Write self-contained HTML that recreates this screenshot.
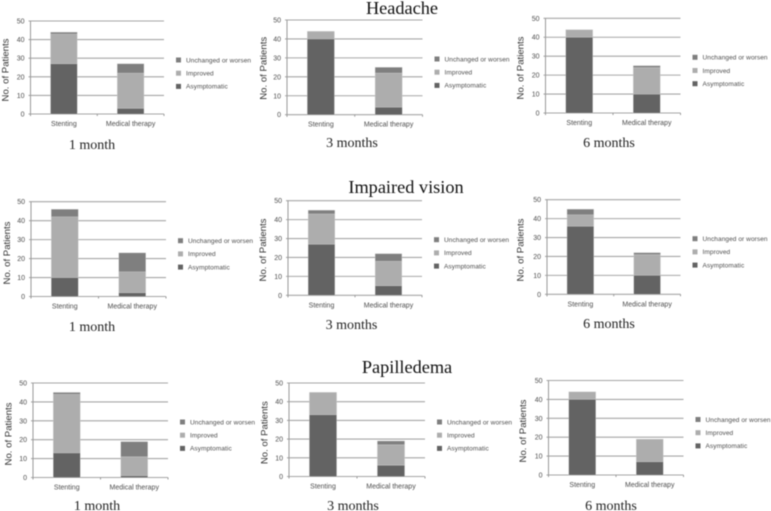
<!DOCTYPE html>
<html lang="en">
<head>
<meta charset="utf-8">
<title>Outcomes by symptom</title>
<style>
html,body{margin:0;padding:0;background:#fff;width:771px;height:511px;overflow:hidden}
svg{display:block;filter:blur(0.5px)}
.tick,.cat{font-family:"Liberation Sans",sans-serif;font-size:7px;fill:#4d4d4d}
.leg{font-family:"Liberation Sans",sans-serif;font-size:6.5px;fill:#4d4d4d;letter-spacing:.08px}
.ylab{font-family:"Liberation Sans",sans-serif;font-size:9.6px;fill:#333}
.cap{font-family:"Liberation Serif",serif;font-size:14px;fill:#222}
.title{font-family:"Liberation Serif",serif;font-size:18.3px;fill:#111}
</style>
</head>
<body>
<svg id="figure" width="771" height="511" viewBox="0 0 771 511" xmlns="http://www.w3.org/2000/svg">
<text class="title" x="402" y="14" text-anchor="middle">Headache</text>
<text class="title" x="406" y="193" text-anchor="middle">Impaired vision</text>
<text class="title" x="407" y="373" text-anchor="middle">Papilledema</text>
</svg>
<script>
const categories = ["Stenting", "Medical therapy"];
const seriesNames = ["Asymptomatic", "Improved", "Unchanged or worsen"];
const tickLabels = [0, 10, 20, 30, 40, 50];
const panelNames = ["headache-1-month","headache-3-months","headache-6-months","vision-1-month","vision-3-months","vision-6-months","papilledema-1-month","papilledema-3-months","papilledema-6-months"];
const panelCaptions = ["1 month","3 months","6 months","1 month","3 months","6 months","1 month","3 months","6 months"];
const stentingAsymptomatic = [27, 40, 40, 10, 27, 36, 13, 33, 40];
const stentingImproved     = [16,  4,  4, 32, 16,  6, 31, 12,  4];
const stentingUnchanged    = [ 1,  0,  0,  4,  2,  3,  1,  0,  0];
const medicalAsymptomatic  = [ 3,  4, 10,  2,  5, 10,  1,  6,  7];
const medicalImproved      = [19, 18, 14, 11, 13, 11, 10, 11, 12];
const medicalUnchanged     = [ 5,  3,  1, 10,  4,  1,  8,  2,  0];

const seriesColors = ["#636363", "#adadad", "#7f7f7f"];
const NS = "http://www.w3.org/2000/svg";
const svg = document.getElementById("figure");

// Frame geometry for each small-multiple panel (layout only, not data)
const frames = [
  {l:30.5,r:164,  top:21,   bot:114,  capX:92,  capY:149, yl:5,    yc:70},
  {l:287, r:422.5,top:20,   bot:114.7,capX:352, capY:147, yl:263,  yc:68.3},
  {l:545.5,r:680.5,top:18.3,bot:113,  capX:609, capY:147, yl:520,  yc:68},
  {l:31,  r:166,  top:201.7,bot:296.5,capX:92,  capY:331, yl:6.5,  yc:253},
  {l:288, r:422,  top:200.7,bot:295.3,capX:351.5,capY:329,yl:262.5,yc:250},
  {l:547, r:680.5,top:199.7,bot:294.3,capX:609, capY:328, yl:520,  yc:250},
  {l:33,  r:168,  top:383,  bot:477.5,capX:97,  capY:510, yl:8.2,  yc:434},
  {l:289, r:425,  top:383,  bot:476.5,capX:353, capY:510, yl:264.2,yc:432.7},
  {l:548.5,r:683.5,top:380.5,bot:475, capX:611, capY:510, yl:522.5,yc:431}
];

function make(tag, attrs, parent, text) {
  const el = document.createElementNS(NS, tag);
  for (const k in attrs) el.setAttribute(k, attrs[k]);
  if (text !== undefined) el.textContent = text;
  parent.appendChild(el);
  return el;
}

frames.forEach(function (f, p) {
  const g = make("g", {}, svg);
  
  

  const maxTick = tickLabels[tickLabels.length - 1];
  const yScale = function (v) { return f.bot - (v / maxTick) * (f.bot - f.top); };
  const plotW = f.r - f.l;
  const xCenter = function (i) { return f.l + plotW * (i + 0.5) / categories.length; };
  const barW = plotW * 0.2;

  // gridlines and y ticks
  tickLabels.forEach(function (t) {
    const y = yScale(t);
    const line = make("line", {x1: f.l - 2, x2: f.r, y1: y, y2: y, stroke: "#a6a6a6", "stroke-width": 1.1}, g);
    
    
    const lab = make("text", {class: "tick", x: f.l - 6, y: y + 2.5, "text-anchor": "end"}, g, String(t));
    
    
  });

  // y axis and x ticks
  const yAxis = make("line", {x1: f.l, x2: f.l, y1: f.top, y2: f.bot + 2, stroke: "#999", "stroke-width": 1}, g);
  
  
  [0, 1, 2].forEach(function (i) {
    const x = f.l + plotW * i / 2;
    const tk = make("line", {x1: x, x2: x, y1: f.bot, y2: f.bot + 2, stroke: "#999", "stroke-width": 1}, g);
    
    
  });

  // stacked bars
  const stacks = [
    [stentingAsymptomatic[p], stentingImproved[p], stentingUnchanged[p]],
    [medicalAsymptomatic[p], medicalImproved[p], medicalUnchanged[p]]
  ];
  stacks.forEach(function (vals, c) {
    let base = 0;
    vals.forEach(function (v, s) {
      if (v > 0) {
        const yTop = yScale(base + v);
        const yBase = yScale(base);
        const rect = make("rect", {x: xCenter(c) - barW / 2, y: yTop, width: barW, height: yBase - yTop, fill: seriesColors[s], stroke: "#d4d4d4", "stroke-width": 0.3}, g);
        
        
      }
      base += v;
    });
    const lab = make("text", {class: "cat", x: xCenter(c), y: f.bot + 12, "text-anchor": "middle"}, g, categories[c]);
    
    
  });

  // y-axis title
  const yt = make("text", {class: "ylab", "text-anchor": "middle", transform: "translate(" + (f.yl + 3.5) + "," + f.yc + ") rotate(-90)"}, g, "No. of Patients");
  
  

  // legend, top entry is the last series
  const legX = f.r + 12;
  [2, 1, 0].forEach(function (s, row) {
    const ly = f.top + 39 + row * 13.2;
    const sq = make("rect", {x: legX, y: ly - 2.5, width: 5, height: 5, fill: seriesColors[s]}, g);
    
    
    const tx = make("text", {class: "leg", x: legX + 10, y: ly + 2.3}, g, seriesNames[s]);
    
    
  });

  // panel caption
  const cap = make("text", {class: "cap", x: f.capX, y: f.capY, "text-anchor": "middle"}, g, panelCaptions[p]);
  
  
});
</script>
</body>
</html>
